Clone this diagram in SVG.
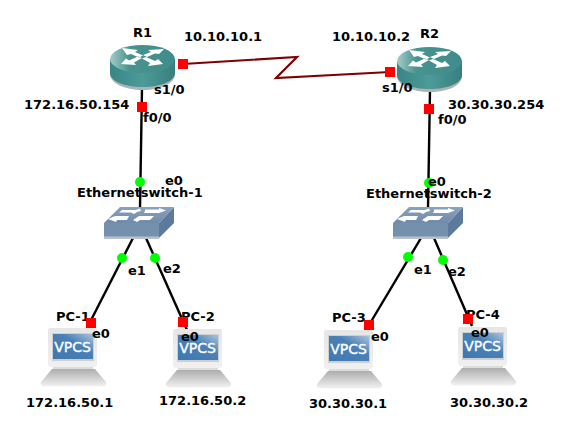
<svg xmlns="http://www.w3.org/2000/svg" width="568" height="437" viewBox="0 0 568 437">
<style>
text{font-family:"DejaVu Sans",sans-serif;font-weight:700;font-size:13px;fill:#000}
.eth{stroke:#000;stroke-width:2.400;fill:none}
.ser{stroke:#7f0000;stroke-width:2.200;fill:none}
.r{fill:#f00}.g{fill:#0f0}
</style>
<defs>
<linearGradient id="rs" x1="0" x2="1" y1="0" y2="0"><stop offset="0" stop-color="#378585"/><stop offset=".5" stop-color="#4c9b99"/><stop offset="1" stop-color="#377f7f"/></linearGradient>
<linearGradient id="rt" x1="0" x2="1" y1="0" y2="0"><stop offset="0" stop-color="#a4cbc9"/><stop offset=".3" stop-color="#48938f"/><stop offset="1" stop-color="#3f8c8a"/></linearGradient>
<linearGradient id="scr" x1="0" x2="1" y1="1" y2="0"><stop offset="0" stop-color="#3f78b0"/><stop offset=".6" stop-color="#4a80b6"/><stop offset="1" stop-color="#a9c3dd"/></linearGradient>
<linearGradient id="base" x1="0" x2="0" y1="0" y2="1"><stop offset="0" stop-color="#adadad"/><stop offset="1" stop-color="#f2f2f2"/></linearGradient>
<linearGradient id="bez" x1="0" x2="0" y1="0" y2="1"><stop offset="0" stop-color="#e6e6e6"/><stop offset="1" stop-color="#f0f0f0"/></linearGradient>
<linearGradient id="stop" x1="0" x2="0" y1="0" y2="1"><stop offset="0" stop-color="#8aa3bd"/><stop offset="1" stop-color="#6f8ba9"/></linearGradient>
<g id="router">
<path d="M0 14V28C0 37 14 44 33 44S65 37 65 28V14Z" fill="#aeb4b4" transform="translate(0,1)"/>
<path d="M0 14V28C0 36 14 42 32.500 42S65 36 65 28V14Z" fill="url(#rs)"/>
<ellipse cx="32.500" cy="14" rx="32.500" ry="14" fill="url(#rt)"/>
<path d="M12 3L28 5L25 7L33 10.500L29 12.500L21 9L17 10Z M54 4L38 5L41 7L33 10L37 12L45 8.500L49 9Z M11 19L26 20L24 17.500L32 13L28 11.500L19 15.500L16 13.500Z M53 19L38 21L40 18L32 13.500L36 12L45 16L48 14Z" fill="#fff"/>
</g>
<g id="switch">
<path d="M0 16H55V31H0Z" fill="#7590ad"/>
<path d="M55 16L70 0V16L55 31Z" fill="#5c7a9b"/>
<path d="M16 0H70L55 16H0Z" fill="url(#stop)"/>
<path d="M0 29.500H55V32H0Z" fill="#b9c2cc"/>
<path d="M18 3H32L36 1.500L37 4L33 5L30 7L27 5.500H15Z M41 2.500H55V1L62 3.500L55 6H40L41 4Z M11 9H25L23 13L13 13L12 15L4 12Z M35 9H50L46 13L36 13L33 15L29 13Z" fill="#fff"/>
</g>
<g id="pc">
<path d="M9 0H54Q56 0 56 3V36Q56 39 53 39H10Q7 39 7 36V3Q7 0 9 0Z" fill="url(#bez)"/>
<path d="M11 5H53V33H11Z" fill="#cfcfcf"/>
<path d="M12 6H52V31H12Z" fill="url(#scr)"/>
<text x="31.500" y="24" text-anchor="middle" style="font-size:14px;font-weight:400;fill:#fff;stroke:#fff;stroke-width:.35">VPCS</text>
<path d="M12 39H52V41H12Z" fill="#dcdcdc"/>
<path d="M11 41H54L65 54Q66 58 61 58.500H4Q-1 58 0 54Z" fill="url(#base)"/>
</g>
</defs>
<g id="connectors">
<path class="ser" d="M183 64L297 57L276 78L390 72"/>
<path class="eth" d="M142 88L140 208"/>
<path class="eth" d="M430 90L428 208"/>
<path class="eth" d="M133 238L87 328"/>
<path class="eth" d="M146 238L187 330"/>
<path class="eth" d="M421 238L369 325"/>
<path class="eth" d="M434 238L472 326"/>
</g>
<g id="R1"><use href="#router" x="110" y="45"/><text x="133" y="37">R1</text></g>
<g id="R2"><use href="#router" x="397" y="47"/><text x="420" y="38">R2</text></g>
<g id="Ethernetswitch-1"><use href="#switch" x="104" y="207"/><text x="77" y="197">Ethernetswitch-1</text></g>
<g id="Ethernetswitch-2"><use href="#switch" x="393" y="207"/><text x="366" y="198">Ethernetswitch-2</text></g>
<g id="PC-1"><use href="#pc" x="41" y="328"/><text x="56" y="321">PC-1</text></g>
<g id="PC-2"><use href="#pc" x="166" y="329"/><text x="181" y="321">PC-2</text></g>
<g id="PC-3"><use href="#pc" x="317" y="330"/><text x="332" y="322">PC-3</text></g>
<g id="PC-4"><use href="#pc" x="451" y="327"/><text x="466" y="319">PC-4</text></g>
<g id="ports">
<rect class="r" x="178" y="59" width="10" height="10"/><rect class="r" x="385" y="67" width="10" height="10"/>
<rect class="r" x="137" y="102" width="10" height="10"/><rect class="r" x="424" y="104" width="10" height="10"/>
<rect class="r" x="86" y="318" width="10" height="10"/><rect class="r" x="178" y="317" width="10" height="10"/>
<rect class="r" x="364" y="320" width="10" height="10"/><rect class="r" x="463" y="314" width="10" height="10"/>
<circle class="g" cx="140" cy="182" r="5"/><circle class="g" cx="429" cy="183" r="5"/>
<circle class="g" cx="122" cy="258" r="5"/><circle class="g" cx="155" cy="258" r="5"/>
<circle class="g" cx="408" cy="257" r="5"/><circle class="g" cx="443" cy="260" r="5"/>
</g>
<g id="labels">
<text x="184" y="41">10.10.10.1</text><text x="332" y="41">10.10.10.2</text>
<text x="154" y="94">s1/0</text><text x="382" y="92">s1/0</text>
<text x="24" y="109">172.16.50.154</text><text x="448" y="109">30.30.30.254</text>
<text x="143" y="122">f0/0</text><text x="438" y="124">f0/0</text>
<text x="165" y="185">e0</text><text x="428" y="186">e0</text>
<text x="128" y="275">e1</text><text x="163" y="273">e2</text><text x="414" y="274">e1</text><text x="448" y="276">e2</text>
<text x="92" y="338">e0</text><text x="181" y="341">e0</text><text x="371" y="341">e0</text><text x="471" y="337">e0</text>
<text x="26" y="407">172.16.50.1</text><text x="159" y="405">172.16.50.2</text><text x="309" y="408">30.30.30.1</text><text x="450" y="407">30.30.30.2</text>
</g>
</svg>
